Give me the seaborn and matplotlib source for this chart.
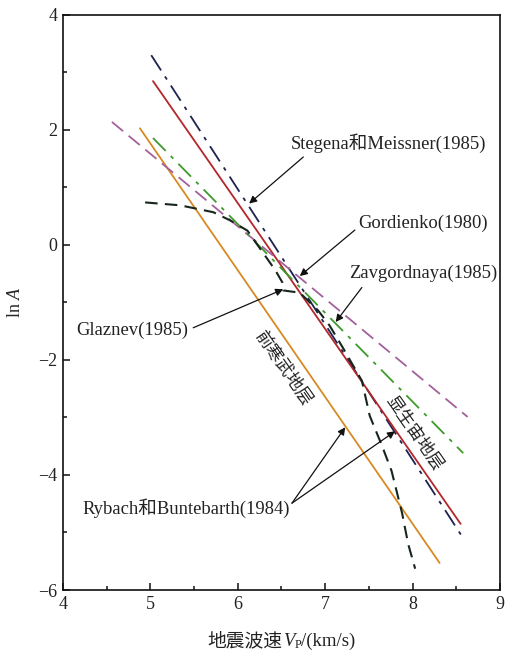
import matplotlib
matplotlib.use("Agg")
import matplotlib.pyplot as plt
from matplotlib.ticker import MultipleLocator
import seaborn as sns

# P-wave velocity (km/s) vs. ln A for the published relations
stegena_vp = [5.01, 8.58]
stegena_lnA = [3.30, -5.10]

rybach_phan_vp = [5.03, 8.55]
rybach_phan_lnA = [2.85, -4.85]

rybach_precamb_vp = [4.88, 8.31]
rybach_precamb_lnA = [2.03, -5.53]

gordienko_vp = [4.56, 8.63]
gordienko_lnA = [2.14, -2.99]

zavgordnaya_vp = [5.03, 8.58]
zavgordnaya_lnA = [1.86, -3.62]

glaznev_vp = [4.94, 5.34, 5.72, 5.91, 6.11, 6.43, 6.51, 6.52, 6.71,
              6.92, 7.05, 7.20, 7.42, 7.51, 7.65, 7.76, 7.88, 7.95, 8.03]
glaznev_lnA = [0.74, 0.69, 0.57, 0.43, 0.25, -0.44, -0.65, -0.79, -0.83,
               -1.14, -1.40, -1.78, -2.36, -2.97, -3.49, -3.93, -4.66, -5.20, -5.63]

x_ticks = [4, 5, 6, 7, 8, 9]
y_ticks = [-6, -4, -2, 0, 2, 4]

sns.set_theme(style="ticks")
plt.rcParams["font.family"] = ["Liberation Serif", "Noto Sans CJK SC"]
plt.rcParams["mathtext.fontset"] = "custom"
plt.rcParams["mathtext.rm"] = "Liberation Serif"
plt.rcParams["mathtext.it"] = "Liberation Serif:italic"
plt.rcParams["axes.unicode_minus"] = True

fig = plt.figure(figsize=(5.06, 6.51), dpi=100)
ax = fig.add_axes([0.1245, 0.0937, 0.8635, 0.8833])

lw = 1.3
sns.lineplot(x=stegena_vp, y=stegena_lnA, ax=ax, color="#1c2350", lw=lw,
             linestyle=(0, (10, 4, 2, 4)))
sns.lineplot(x=rybach_phan_vp, y=rybach_phan_lnA, ax=ax, color="#b3262a", lw=lw)
sns.lineplot(x=rybach_precamb_vp, y=rybach_precamb_lnA, ax=ax, color="#d88a22", lw=lw)
sns.lineplot(x=gordienko_vp, y=gordienko_lnA, ax=ax, color="#a3609c", lw=lw,
             linestyle=(0, (8, 4)))
sns.lineplot(x=zavgordnaya_vp, y=zavgordnaya_lnA, ax=ax, color="#3f9a2c", lw=lw,
             linestyle=(0, (10, 4, 2, 4)))
sns.lineplot(x=glaznev_vp, y=glaznev_lnA, ax=ax, color="#17261c", lw=1.5,
             linestyle=(0, (6, 3.5)), sort=False, estimator=None)

ax.set_xlim(4, 9)
ax.set_ylim(-6, 4)
ax.set_xticks(x_ticks)
ax.set_yticks(y_ticks)
ax.xaxis.set_minor_locator(MultipleLocator(0.5))
ax.yaxis.set_minor_locator(MultipleLocator(1))
ax.tick_params(which="both", direction="in", top=False, right=False,
               labelsize=13, colors="#222222", width=1.2)
ax.tick_params(which="major", length=5, pad=4)
ax.tick_params(which="minor", length=3)
for s in ax.spines.values():
    s.set_linewidth(1.2)
    s.set_color("#111111")

ax.set_ylabel("ln $A$", fontsize=13, labelpad=10)

# x-axis title assembled from pieces so the CJK part keeps its fallback font
fig.canvas.draw()
renderer = fig.canvas.get_renderer()
W, H = fig.bbox.width, fig.bbox.height
base_px = 651 - 646
pieces = [
    ("地震波速", dict(fontsize=13.5), 0),
    ("V", dict(fontsize=13.5, style="italic"), 0),
    ("P", dict(fontsize=9), -2.5),
    ("/(km/s)", dict(fontsize=13.5), 0),
]
texts = []
for s, kw, dy in pieces:
    t = fig.text(0, (base_px + dy) / H, s, ha="left", va="baseline",
                 color="#222222", **kw)
    texts.append(t)
widths = [t.get_window_extent(renderer).width for t in texts]
x_px = 281.5 - sum(widths) / 2
for t, w in zip(texts, widths):
    t.set_x(x_px / W)
    x_px += w

# labels and leader arrows
txt_kw = dict(fontsize=13.4, color="#222222", ha="center", va="center")
arrow_kw = dict(arrowstyle="-|>", lw=0.9, color="#111111",
                mutation_scale=11, shrinkA=0, shrinkB=0)

ax.text(7.72, 1.77, "Stegena和Meissner(1985)", **txt_kw)
ax.annotate("", xy=(6.13, 0.72), xytext=(6.75, 1.53), arrowprops=arrow_kw)

ax.text(8.12, 0.38, "Gordienko(1980)", **txt_kw)
ax.annotate("", xy=(6.71, -0.54), xytext=(7.34, 0.26), arrowprops=arrow_kw)

ax.text(8.12, -0.49, "Zavgordnaya(1985)", **txt_kw)
ax.annotate("", xy=(7.12, -1.34), xytext=(7.42, -0.74), arrowprops=arrow_kw)

ax.text(4.79, -1.48, "Glaznev(1985)", **txt_kw)
ax.annotate("", xy=(6.52, -0.77), xytext=(5.49, -1.44), arrowprops=arrow_kw)

ax.text(5.41, -4.57, "Rybach和Buntebarth(1984)", **txt_kw)
ax.annotate("", xy=(7.23, -3.17), xytext=(6.62, -4.49), arrowprops=arrow_kw)
ax.annotate("", xy=(7.80, -3.24), xytext=(6.62, -4.49), arrowprops=arrow_kw)

ax.text(6.52, -2.14, "前寒武地层", fontsize=12.5, color="#222222", rotation=-55,
        ha="center", va="center", rotation_mode="anchor")
ax.text(8.02, -3.27, "显生宙地层", fontsize=12.5, color="#222222", rotation=-55,
        ha="center", va="center", rotation_mode="anchor")

fig.savefig("out.png", dpi=100)
